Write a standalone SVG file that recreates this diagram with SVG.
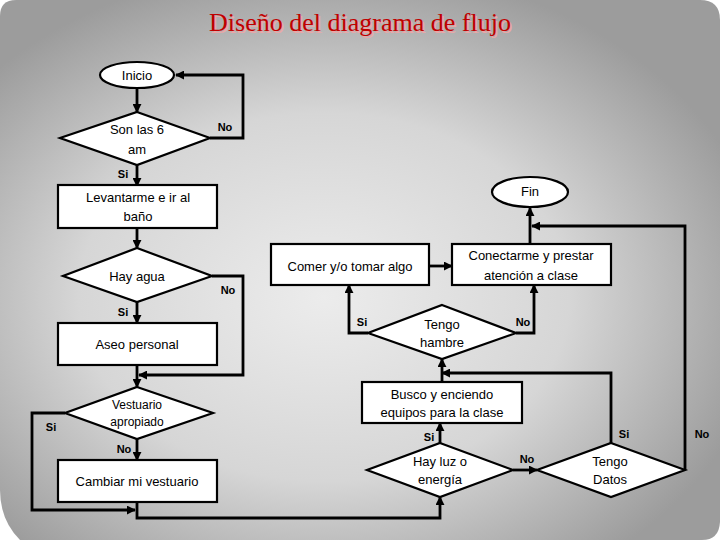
<svg xmlns="http://www.w3.org/2000/svg" width="720" height="540" viewBox="0 0 720 540">
<defs>
<radialGradient id="bg" cx="0.45" cy="0.55" r="0.62">
<stop offset="0" stop-color="#ececec"/>
<stop offset="0.55" stop-color="#d6d6d6"/>
<stop offset="1" stop-color="#9c9c9c"/>
</radialGradient>
<marker id="ah" viewBox="0 0 10 10" refX="9" refY="5" markerWidth="9" markerHeight="9" markerUnits="userSpaceOnUse" orient="auto">
<path d="M0,0 L10,5 L0,10 z" fill="#000"/>
</marker>
</defs>
<style>
.shape{fill:#fff;stroke:#000;stroke-width:2.2}
.t{font-family:"Liberation Sans","Open Sans",sans-serif;font-size:13px;fill:#000;text-anchor:middle}
.lb{font-family:"Liberation Sans","Open Sans",sans-serif;font-size:11px;font-weight:bold;fill:#000;text-anchor:middle}
.c{fill:none;stroke:#000;stroke-width:2.8}
.ttl{font-family:"Liberation Serif","DejaVu Serif",serif;font-size:26px;text-anchor:middle}
</style>
<rect width="720" height="540" fill="#fff"/>
<path d="M16,0 L700,0 Q720,0 720,20 L720,522 Q719,540 702,540 L20,540 Q0,520 0,490 L0,16 Q0,0 16,0 z" fill="url(#bg)"/>
<text class="ttl" x="361.5" y="32.5" fill="#e8a8a8">Diseño del diagrama de flujo</text>
<text class="ttl" x="360" y="31" fill="#c00000">Diseño del diagrama de flujo</text>

<g id="connectors">
<line class="c" x1="137" y1="88" x2="137" y2="112" marker-end="url(#ah)"/>
<polyline class="c" points="210,138 243,138 243,75 176,75" marker-end="url(#ah)"/>
<line class="c" x1="137" y1="165" x2="137" y2="186" marker-end="url(#ah)"/>
<line class="c" x1="137" y1="228" x2="137" y2="248" marker-end="url(#ah)"/>
<line class="c" x1="137" y1="302" x2="137" y2="323" marker-end="url(#ah)"/>
<polyline class="c" points="212,276 243,276 243,375 139,375" marker-end="url(#ah)"/>
<line class="c" x1="137" y1="365" x2="137" y2="387" marker-end="url(#ah)"/>
<polyline class="c" points="65,413 32,413 32,510 135,510" marker-end="url(#ah)"/>
<line class="c" x1="137" y1="439" x2="137" y2="460" marker-end="url(#ah)"/>
<polyline class="c" points="137,502 137,518 440,518 440,497" marker-end="url(#ah)"/>
<line class="c" x1="440" y1="443" x2="440" y2="423" marker-end="url(#ah)"/>
<line class="c" x1="513" y1="470" x2="537" y2="470" marker-end="url(#ah)"/>
<polyline class="c" points="611,443 611,373 442,373" marker-end="url(#ah)"/>
<line class="c" x1="442" y1="382" x2="442" y2="359" marker-end="url(#ah)"/>
<polyline class="c" points="368,333 349,333 349,285" marker-end="url(#ah)"/>
<polyline class="c" points="516,333 534,333 534,285" marker-end="url(#ah)"/>
<line class="c" x1="429" y1="266" x2="452" y2="266" marker-end="url(#ah)"/>
<line class="c" x1="530" y1="244" x2="530" y2="208" marker-end="url(#ah)"/>
<polyline class="c" points="685,470 685,226 532,226" marker-end="url(#ah)"/>
<text class="lb" x="225" y="131">No</text>
<text class="lb" x="123" y="178">Si</text>
<text class="lb" x="228" y="294">No</text>
<text class="lb" x="123" y="316">Si</text>
<text class="lb" x="51" y="431">Si</text>
<text class="lb" x="124" y="453">No</text>
<text class="lb" x="362" y="326">Si</text>
<text class="lb" x="523" y="326">No</text>
<text class="lb" x="429" y="441">Si</text>
<text class="lb" x="527" y="463">No</text>
<text class="lb" x="624" y="438">Si</text>
<text class="lb" x="702" y="438">No</text>
</g>

<g id="inicio">
<ellipse class="shape" cx="137" cy="75" rx="37" ry="13"/>
<text class="t" x="137" y="80">Inicio</text>
</g>
<g id="son-las-6">
<polygon class="shape" points="137,112 210,138 137,165 60,138"/>
<text class="t" x="137" y="134">Son las 6</text>
<text class="t" x="137" y="154">am</text>
</g>
<g id="levantarme">
<rect class="shape" x="58" y="185" width="159" height="43"/>
<text class="t" x="138" y="202">Levantarme e ir al</text>
<text class="t" x="138" y="221">baño</text>
</g>
<g id="hay-agua">
<polygon class="shape" points="137,248 212,276 137,302 63,276"/>
<text class="t" x="137" y="281">Hay agua</text>
</g>
<g id="aseo">
<rect class="shape" x="58" y="323" width="159" height="42"/>
<text class="t" x="137" y="349">Aseo personal</text>
</g>
<g id="vestuario">
<polygon class="shape" points="137,387 213,413 137,439 65,413"/>
<text class="t" x="137" y="409" style="font-size:12px">Vestuario</text>
<text class="t" x="137" y="426" style="font-size:12px">apropiado</text>
</g>
<g id="cambiar">
<rect class="shape" x="58" y="460" width="159" height="42"/>
<text class="t" x="137" y="486">Cambiar mi vestuario</text>
</g>
<g id="hay-luz">
<polygon class="shape" points="440,443 513,470 440,497 367,470"/>
<text class="t" x="440" y="466">Hay luz o</text>
<text class="t" x="440" y="484">energía</text>
</g>
<g id="tengo-datos">
<polygon class="shape" points="611,443 685,470 611,497 537,470"/>
<text class="t" x="610" y="466">Tengo</text>
<text class="t" x="610" y="484">Datos</text>
</g>
<g id="busco">
<rect class="shape" x="362" y="382" width="160" height="41"/>
<text class="t" x="442" y="399">Busco y enciendo</text>
<text class="t" x="442" y="417">equipos para la clase</text>
</g>
<g id="tengo-hambre">
<polygon class="shape" points="442,305 516,333 442,359 368,333"/>
<text class="t" x="442" y="329">Tengo</text>
<text class="t" x="442" y="347">hambre</text>
</g>
<g id="comer">
<rect class="shape" x="271" y="244" width="158" height="41"/>
<text class="t" x="350" y="271">Comer y/o tomar algo</text>
</g>
<g id="conectarme">
<rect class="shape" x="452" y="244" width="159" height="41"/>
<text class="t" x="531" y="260">Conectarme y prestar</text>
<text class="t" x="531" y="280">atención a clase</text>
</g>
<g id="fin">
<ellipse class="shape" cx="530" cy="192" rx="38" ry="15"/>
<text class="t" x="530" y="196">Fin</text>
</g>
</svg>
